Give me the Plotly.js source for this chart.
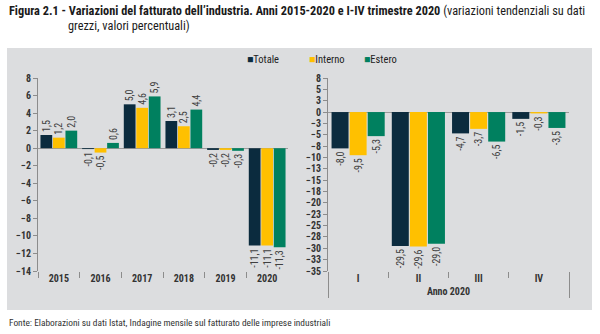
<!DOCTYPE html>
<html><head><meta charset="utf-8">
<script src="https://cdn.plot.ly/plotly-3.0.1.min.js"></script>
<style>html,body{margin:0;padding:0;background:#fff;}#chart{width:600px;height:334px;}</style>
</head><body><div id="chart"></div>
<script>
const years = ["2015","2016","2017","2018","2019","2020"];
const quarters = ["I","II","III","IV"];
const quarterGroup = "Anno 2020";
const seriesNames = ["Totale","Interno","Estero"];
const seriesColors = ["#0b2b3e","#ffc000","#00805f"];
const annualTotale  = [1.5, -0.1, 5.0, 3.1, -0.2, -11.1];
const annualInterno = [1.2, -0.5, 4.6, 2.5, -0.2, -11.1];
const annualEstero  = [2.0, 0.6, 5.9, 4.4, -0.3, -11.3];
const qTotale  = [-8.0, -29.5, -4.7, -1.5];
const qInterno = [-9.5, -29.6, -3.7, -0.3];
const qEstero  = [-5.3, -29.0, -6.5, -3.5];

const FONT = "Roboto Condensed, Liberation Sans, Arial, sans-serif";
const annual = [annualTotale, annualInterno, annualEstero];
const quarterly = [qTotale, qInterno, qEstero];
const qx = [quarters.map(()=>quarterGroup), quarters];

const traces = [];
annual.forEach((vals,i)=>{
  traces.push({type:'bar', x:years, y:vals, name:seriesNames[i], xaxis:'x', yaxis:'y',
    marker:{color:seriesColors[i]}, texttemplate:'%{y:.1f}', textposition:'outside',
    textangle:-90, constraintext:'none', cliponaxis:false,
    textfont:{family:FONT,size:10,color:'#404040'}, showlegend:false, hoverinfo:'none'});
});
quarterly.forEach((vals,i)=>{
  traces.push({type:'bar', x:qx, y:vals, name:seriesNames[i], xaxis:'x2', yaxis:'y2',
    marker:{color:seriesColors[i]}, texttemplate:'%{y:.1f}', textposition:'outside',
    textangle:-90, constraintext:'none', cliponaxis:false,
    textfont:{family:FONT,size:10,color:'#404040'}, showlegend:false, hoverinfo:'none'});
});

const yDom = [1-271/334, 1-78/334];
const axisCommon = {showgrid:false, showline:true, linecolor:'#8c8c8c', linewidth:1,
  ticks:'outside', ticklen:4, tickcolor:'#8c8c8c',
  tickfont:{family:FONT,size:10,color:'#333',weight:'bold'},
  zeroline:true, zerolinecolor:'#9a9a9a', zerolinewidth:1, fixedrange:true};

const legendAnn = seriesNames.map((n,i)=>({
  xref:'paper', yref:'paper', x:[245/600,307/600,362/600][i], y:1-60/334,
  xanchor:'left', yanchor:'middle', showarrow:false,
  text:'<span style="color:'+seriesColors[i]+'">■</span>'+n,
  font:{family:FONT,size:10.5,color:'#222'}
}));

const layout = {
  width:600, height:334, margin:{l:0,r:0,t:0,b:0},
  paper_bgcolor:'#ffffff', plot_bgcolor:'rgba(0,0,0,0)',
  separators:',.', barmode:'group', bargap:0.1, bargroupgap:0.06,
  showlegend:false,
  xaxis:{domain:[38/600,288/600], anchor:'y', type:'category', showline:false,
    ticks:'outside', tickson:'boundaries', ticklen:6, tickcolor:'#8c8c8c',
    tickfont:{family:FONT,size:10,color:'#333',weight:'bold'}, showgrid:false, fixedrange:true},
  yaxis:Object.assign({}, axisCommon, {domain:yDom, anchor:'x', range:[-14,8], dtick:2, tick0:0}),
  xaxis2:{domain:[328/600,569/600], anchor:'y2', type:'multicategory', showline:false,
    ticks:'outside', ticklen:6, tickcolor:'#8c8c8c', showdividers:true, dividercolor:'#8c8c8c',
    tickfont:{family:FONT,size:10,color:'#333',weight:'bold'}, showgrid:false, fixedrange:true},
  yaxis2:Object.assign({}, axisCommon, {domain:yDom, anchor:'x2', range:[-35,7.5], dtick:2.5, tick0:0, tickformat:'.0f'}),
  shapes:[{type:'rect', xref:'paper', yref:'paper', x0:7/600, x1:592/600, y0:1-310/334, y1:1-48/334,
    fillcolor:'#dcdddf', line:{width:0}, layer:'below'}],
  annotations:[
    {xref:'paper', yref:'paper', x:7/600, y:1-2/334, xanchor:'left', yanchor:'top', showarrow:false, align:'left',
     text:'<b>Figura 2.1 - Variazioni del fatturato dell\u2019industria. Anni 2015-2020 e I-IV trimestre 2020</b> (variazioni tendenziali su dati',
     font:{family:FONT,size:12.3,color:'#1a1a1a'}},
    {xref:'paper', yref:'paper', x:66/600, y:1-17/334, xanchor:'left', yanchor:'top', showarrow:false, align:'left',
     text:'grezzi, valori percentuali)', font:{family:FONT,size:12.3,color:'#1a1a1a'}},
    {xref:'paper', yref:'paper', x:7/600, y:1-322/334, xanchor:'left', yanchor:'middle', showarrow:false,
     text:'Fonte: Elaborazioni su dati Istat, Indagine mensile sul fatturato delle imprese industriali',
     font:{family:FONT,size:9.4,color:'#333'}}
  ].concat(legendAnn)
};
Plotly.newPlot('chart', traces, layout, {staticPlot:true, displayModeBar:false});
</script></body></html>
